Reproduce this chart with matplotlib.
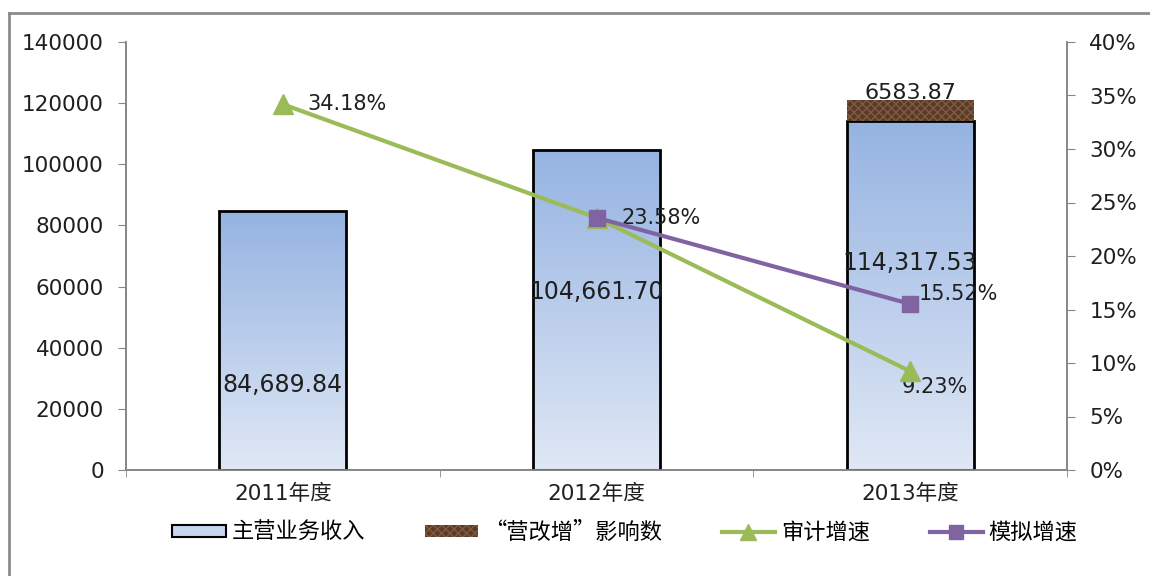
import numpy as np
import matplotlib
matplotlib.use("Agg")
import matplotlib.pyplot as plt
from matplotlib.patches import Patch
from matplotlib.lines import Line2D

plt.rcParams['font.family'] = ['DejaVu Sans', 'Noto Sans CJK SC']

# data
years = ['2011年度', '2012年度', '2013年度']
revenue = [84689.84, 104661.70, 114317.53]
vat_effect = [0, 0, 6583.87]
audit_growth = [0.3418, 0.2358, 0.0923]
sim_growth = [np.nan, 0.2358, 0.1552]
revenue_labels = ['84,689.84', '104,661.70', '114,317.53']
revenue_label_y = [27800, 58200, 67700]
legend_names = ['主营业务收入', '“营改增”影响数', '审计增速', '模拟增速']

green = '#9BBB59'
purple = '#8064A2'
grey = '#868686'
txt = '#1F1F1F'
brown = '#5C3B26'
brown_hatch = '#7E5C44'

fig = plt.figure(figsize=(11.5, 5.76), dpi=100)
ax = fig.add_axes([126 / 1150, 106 / 576, 941 / 1150, 428 / 576])
ax2 = ax.twinx()

x = np.arange(len(years))
w = 0.405

# gradient bars
grad = np.linspace(0, 1, 256).reshape(-1, 1)
cmap = matplotlib.colors.LinearSegmentedColormap.from_list('g', ['#E0E8F5', '#95B3E2'])
for xi, v in zip(x, revenue):
    ax.imshow(grad, extent=(xi - w / 2, xi + w / 2, 0, v), origin='lower',
              aspect='auto', cmap=cmap, zorder=2)
ax.bar(x, revenue, w, facecolor='none', edgecolor='black', linewidth=2, zorder=3)
ax.bar(x, vat_effect, w, bottom=revenue, facecolor=brown, edgecolor=brown_hatch,
       hatch='xxxx', linewidth=0, zorder=3)

for xi, lab, ly in zip(x, revenue_labels, revenue_label_y):
    ax.text(xi, ly, lab, ha='center', va='center', fontsize=17, color=txt, zorder=6)
ax.text(x[2], revenue[2] + vat_effect[2] + 2300, f'{vat_effect[2]:.2f}', ha='center',
        va='center', fontsize=16, color=txt, zorder=6)

ax.set_xlim(-0.5, 2.5)
ax.set_ylim(0, 140000)
ax.set_yticks(np.arange(0, 140001, 20000))
ax.set_xticks(x)
ax.set_xticklabels(years, fontsize=15.5, color=txt)
ax.set_xticks([-0.5, 0.5, 1.5, 2.5], minor=True)
ax.tick_params(axis='x', which='major', length=0, pad=10)
ax.tick_params(axis='x', which='minor', length=5, color=grey, direction='out')
ax.tick_params(axis='y', length=6, color=grey, labelsize=15.5, labelcolor=txt, pad=10)

# lines
ax2.plot(x, audit_growth, color=green, lw=3, marker='^', ms=14, zorder=4)
ax2.plot(x, sim_growth, color=purple, lw=3, marker='s', ms=11, zorder=5)
ax2.set_ylim(0, 0.4)
ax2.set_yticks(np.arange(0, 0.401, 0.05))
ax2.set_yticklabels([f'{int(round(t * 100))}%' for t in np.arange(0, 0.401, 0.05)])
ax2.tick_params(axis='y', length=6, color=grey, labelsize=15.5, labelcolor=txt, pad=10)

ax2.annotate(f'{audit_growth[0] * 100:.2f}%', (x[0], audit_growth[0]), xytext=(18, 0),
             textcoords='offset points', va='center', fontsize=15, color=txt)
ax2.annotate(f'{sim_growth[1] * 100:.2f}%', (x[1], sim_growth[1]), xytext=(18, 0),
             textcoords='offset points', va='center', fontsize=15, color=txt)
ax2.annotate(f'{sim_growth[2] * 100:.2f}%', (x[2], sim_growth[2]), xytext=(6, 7),
             textcoords='offset points', va='center', fontsize=15, color=txt)
ax2.annotate(f'{audit_growth[2] * 100:.2f}%', (x[2], audit_growth[2]), xytext=(18, -11),
             textcoords='offset points', ha='center', va='center', fontsize=15, color=txt)

for a in (ax, ax2):
    a.spines['top'].set_visible(False)
    for s in ('left', 'right', 'bottom'):
        a.spines[s].set_color(grey)
        a.spines[s].set_linewidth(1.2)

# outer frame
fig.add_artist(Line2D([9 / 1150, 9 / 1150], [0, 1 - 13 / 576], color='#8C8C8C', lw=2))
fig.add_artist(Line2D([9 / 1150, 1], [1 - 13 / 576, 1 - 13 / 576], color='#8C8C8C', lw=2))

handles = [
    Patch(facecolor='#C6D6EF', edgecolor='black', linewidth=1.5),
    Patch(facecolor=brown, edgecolor=brown_hatch, hatch='xxxx', linewidth=0),
    Line2D([], [], color=green, lw=3, marker='^', ms=11),
    Line2D([], [], color=purple, lw=3, marker='s', ms=10),
]
fig.legend(handles, legend_names, loc='center', bbox_to_anchor=(0.5435, 0.076), ncol=4,
           frameon=False, prop={'family': ['Noto Sans CJK SC'], 'size': 16},
           handlelength=2.4, handleheight=0.5, columnspacing=2.7, handletextpad=0.25)

fig.savefig('out.png', dpi=100)
